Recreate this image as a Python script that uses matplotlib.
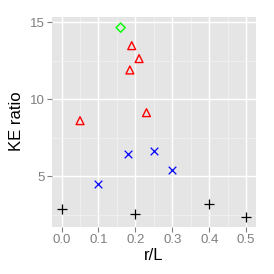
import matplotlib
matplotlib.use("Agg")
import matplotlib.pyplot as plt

plt.rcParams['font.family'] = ['Liberation Sans', 'DejaVu Sans']

# data, grouped by marker
plus_x = [0.0, 0.2, 0.4, 0.5]
plus_y = [2.86, 2.53, 3.18, 2.34]
cross_x = [0.1, 0.18, 0.25, 0.3]
cross_y = [4.48, 6.47, 6.64, 5.41]
tri_x = [0.05, 0.185, 0.19, 0.21, 0.23]
tri_y = [8.61, 11.9, 13.48, 12.64, 9.13]
dia_x = [0.16]
dia_y = [14.65]

fig = plt.figure(figsize=(2.74, 2.74), dpi=100)
ax = fig.add_axes([0.191, 0.173, 0.742, 0.766])
ax.set_facecolor('#E5E5E5')
for s in ax.spines.values():
    s.set_visible(False)

ax.set_xlim(-0.025, 0.5257)
ax.set_ylim(1.73, 15.36)

ax.set_xticks([0, 0.1, 0.2, 0.3, 0.4, 0.5])
ax.set_xticklabels(['0.0', '0.1', '0.2', '0.3', '0.4', '0.5'])
ax.set_yticks([5, 10, 15])
ax.set_xticks([0.05, 0.15, 0.25, 0.35, 0.45], minor=True)
ax.set_yticks([2.5, 7.5, 12.5], minor=True)

ax.grid(which='major', color='white', linewidth=1.0)
ax.grid(which='minor', color='#F2F2F2', linewidth=0.5)
ax.set_axisbelow(True)
ax.tick_params(which='major', length=3.5, width=0.8, color='#7F7F7F',
               labelcolor='#7F7F7F', labelsize=9.5, pad=2)
ax.tick_params(which='minor', length=0)

ax.scatter(plus_x, plus_y, marker='+', color='black', s=55, linewidths=0.9)
ax.scatter(cross_x, cross_y, marker='x', color='blue', s=30, linewidths=0.9)
ax.scatter(tri_x, tri_y, marker='^', facecolors='none', edgecolors='red',
           s=32, linewidths=1.0)
ax.scatter(dia_x, dia_y, marker='D', facecolors='none', edgecolors='#00FF00',
           s=22, linewidths=1.0)

ax.set_xlabel('r/L', fontsize=12, labelpad=1)
ax.set_ylabel('KE ratio', fontsize=12, labelpad=4)

fig.savefig('out.png', dpi=100)
